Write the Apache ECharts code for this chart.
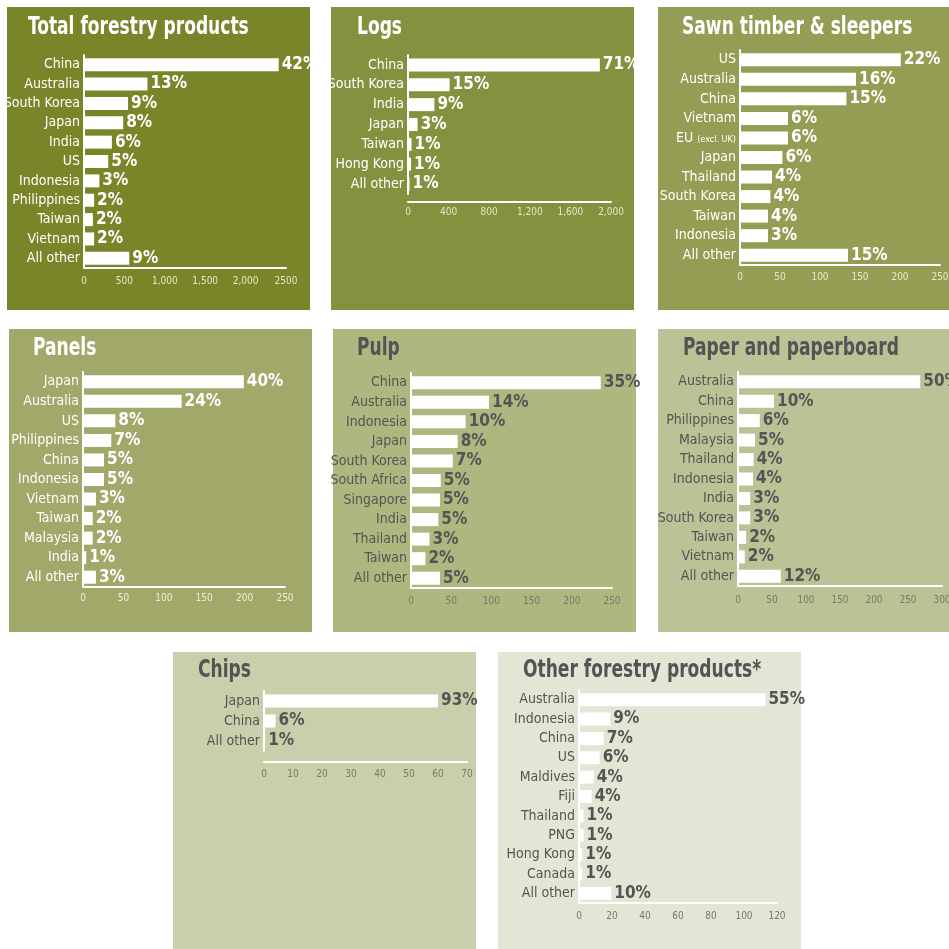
<!DOCTYPE html>
<html><head><meta charset="utf-8">
<script src="https://cdn.jsdelivr.net/npm/echarts@6/dist/echarts.min.js"></script>
<style>html,body{margin:0;padding:0;background:#fff}#c{width:949px;height:949px}</style>
</head><body><div id="c"></div>
<script>
// ---- DATA ----
const totalCats = ['China','Australia','South Korea','Japan','India','US','Indonesia','Philippines','Taiwan','Vietnam','All other'];
const totalVals = [2410, 785, 545, 485, 345, 300, 190, 125, 110, 125, 560];
const totalPct = ['42%','13%','9%','8%','6%','5%','3%','2%','2%','2%','9%'];
const totalTicks = ['0','500','1,000','1,500','2,000','2500'];

const logsCats = ['China','South Korea','India','Japan','Taiwan','Hong Kong','All other'];
const logsVals = [1890, 410, 260, 95, 35, 30, 15];
const logsPct = ['71%','15%','9%','3%','1%','1%','1%'];
const logsTicks = ['0','400','800','1,200','1,600','2,000'];

const sawnCats = ['US','Australia','China','Vietnam','EU','Japan','Thailand','South Korea','Taiwan','Indonesia','All other'];
const sawnVals = [201, 145, 133, 60, 60, 53, 40, 38, 35, 35, 135];
const sawnPct = ['22%','16%','15%','6%','6%','6%','4%','4%','4%','3%','15%'];
const sawnTicks = ['0','50','100','150','200','250'];

const panelCats = ['Japan','Australia','US','Philippines','China','Indonesia','Vietnam','Taiwan','Malaysia','India','All other'];
const panelVals = [199, 122, 40, 35, 26, 26, 16, 12, 12, 4, 16];
const panelPct = ['40%','24%','8%','7%','5%','5%','3%','2%','2%','1%','3%'];
const panelTicks = ['0','50','100','150','200','250'];

const pulpCats = ['China','Australia','Indonesia','Japan','South Korea','South Africa','Singapore','India','Thailand','Taiwan','All other'];
const pulpVals = [236, 97, 68, 58, 52, 37, 36, 34, 23, 18, 36];
const pulpPct = ['35%','14%','10%','8%','7%','5%','5%','5%','3%','2%','5%'];
const pulpTicks = ['0','50','100','150','200','250'];

const paperCats = ['Australia','China','Philippines','Malaysia','Thailand','Indonesia','India','South Korea','Taiwan','Vietnam','All other'];
const paperVals = [268, 53, 32, 25, 23, 22, 18, 18, 12, 10, 63];
const paperPct = ['50%','10%','6%','5%','4%','4%','3%','3%','2%','2%','12%'];
const paperTicks = ['0','50','100','150','200','250','300'];

const chipsCats = ['Japan','China','All other'];
const chipsVals = [60, 4, 0.4];
const chipsPct = ['93%','6%','1%'];
const chipsTicks = ['0','10','20','30','40','50','60','70'];

const otherCats = ['Australia','Indonesia','China','US','Maldives','Fiji','Thailand','PNG','Hong Kong','Canada','All other'];
const otherVals = [113, 19, 15, 12.5, 9, 7.7, 2.8, 2.8, 2, 2, 19.6];
const otherPct = ['55%','9%','7%','6%','4%','4%','1%','1%','1%','1%','10%'];
const otherTicks = ['0','20','40','60','80','100','120'];

// ---- LAYOUT / STYLE ----
const FONT = '"DejaVu Sans Condensed","Liberation Sans Narrow",sans-serif';
const DARK = '#545454';
const panels = [
  {title:'Total forestry products', cats:totalCats, vals:totalVals, pct:totalPct, ticks:totalTicks, max:2500, interval:500,
   bg:'#7a8428', box:[7,7,303,303], txt:'#ffffff', tick:'#e4e6c8', grid:[84,55,202,213], tpos:[28,15], off:0, margin:8},
  {title:'Logs', cats:logsCats, vals:logsVals, pct:logsPct, ticks:logsTicks, max:2000, interval:400,
   bg:'#86913f', box:[331,7,303,303], txt:'#ffffff', tick:'#e4e6c8', grid:[408,55,203,139], tpos:[357,15], off:8, margin:5},
  {title:'Sawn timber & sleepers', cats:sawnCats, vals:sawnVals, pct:sawnPct, ticks:sawnTicks, max:250, interval:50,
   bg:'#949d53', box:[658,7,291,303], txt:'#ffffff', tick:'#e8eacf', grid:[740,50,200,215], tpos:[682,15], off:0, margin:7},
  {title:'Panels', cats:panelCats, vals:panelVals, pct:panelPct, ticks:panelTicks, max:250, interval:50,
   bg:'#a2a869', box:[9,329,303,303], txt:'#ffffff', tick:'#eceed8', grid:[83,372,202,215], tpos:[33,336], off:0, margin:6},
  {title:'Pulp', cats:pulpCats, vals:pulpVals, pct:pulpPct, ticks:pulpTicks, max:250, interval:50,
   bg:'#b0b67f', box:[333,329,303,303], txt:DARK, tick:'#777a68', grid:[411,373,201,215], tpos:[357,336], off:0, margin:8},
  {title:'Paper and paperboard', cats:paperCats, vals:paperVals, pct:paperPct, ticks:paperTicks, max:300, interval:50,
   bg:'#bcc196', box:[658,329,291,303], txt:DARK, tick:'#777a68', grid:[738,372,204,214], tpos:[683,336], off:0, margin:9},
  {title:'Chips', cats:chipsCats, vals:chipsVals, pct:chipsPct, ticks:chipsTicks, max:70, interval:10,
   bg:'#cacfab', box:[173,652,303,297], txt:DARK, tick:'#777a68', grid:[264,691,203,60], tpos:[198,658], off:11, margin:7},
  {title:'Other forestry products*', cats:otherCats, vals:otherVals, pct:otherPct, ticks:otherTicks, max:120, interval:20,
   bg:'#e3e5d5', box:[498,652,303,297], txt:DARK, tick:'#77786c', grid:[579,690,198,213], tpos:[523,658], off:0, margin:8}
];

const option = {animation:false, grid:[], xAxis:[], yAxis:[], series:[], graphic:[]};
panels.forEach((p, i) => {
  option.graphic.push({type:'rect', z:-10, silent:true,
    shape:{x:p.box[0], y:p.box[1], width:p.box[2], height:p.box[3]}, style:{fill:p.bg}});
  option.graphic.push({type:'text', z:10, silent:true, x:p.tpos[0], y:p.tpos[1], scaleX:0.76,
    style:{text:p.title, fill:p.txt, fontFamily:FONT, fontWeight:'bold', fontSize:25, textVerticalAlign:'top', verticalAlign:'top'}});
  option.grid.push({left:p.grid[0], top:p.grid[1], width:p.grid[2], height:p.grid[3], containLabel:false, outerBoundsMode:'none'});
  option.xAxis.push({type:'value', gridIndex:i, min:0, max:p.max, interval:p.interval, offset:p.off,
    splitLine:{show:false}, axisTick:{show:false},
    axisLine:{show:true, onZero:false, lineStyle:{color:'#ffffff', width:2}},
    axisLabel:{color:p.tick, fontFamily:FONT, fontSize:10, margin:p.margin, hideOverlap:false,
      formatter:(v)=>p.ticks[Math.round(v/p.interval)] ?? ''}});
  option.yAxis.push({type:'category', gridIndex:i, inverse:true, data:p.cats,
    axisTick:{show:false}, splitLine:{show:false},
    axisLine:{show:true, lineStyle:{color:'#ffffff', width:2}},
    axisLabel:{interval:0, color:p.txt, fontFamily:FONT, fontSize:14, margin:4, hideOverlap:false,
      formatter:(v)=> v==='EU' ? 'EU {s|(excl. UK)}' : v,
      rich:{s:{fontSize:9, color:p.txt, fontFamily:FONT, padding:[3,0,0,0]}}}});
  option.series.push({type:'bar', xAxisIndex:i, yAxisIndex:i, data:p.vals, barWidth:13,
    itemStyle:{color:'#ffffff'},
    label:{show:true, position:'right', distance:3, color:p.txt, fontFamily:FONT, fontWeight:'bold', fontSize:17,
      formatter:(q)=>p.pct[q.dataIndex]}});
});

const chart = echarts.init(document.getElementById('c'), null, {renderer:'canvas'});
chart.setOption(option);
</script></body></html>
